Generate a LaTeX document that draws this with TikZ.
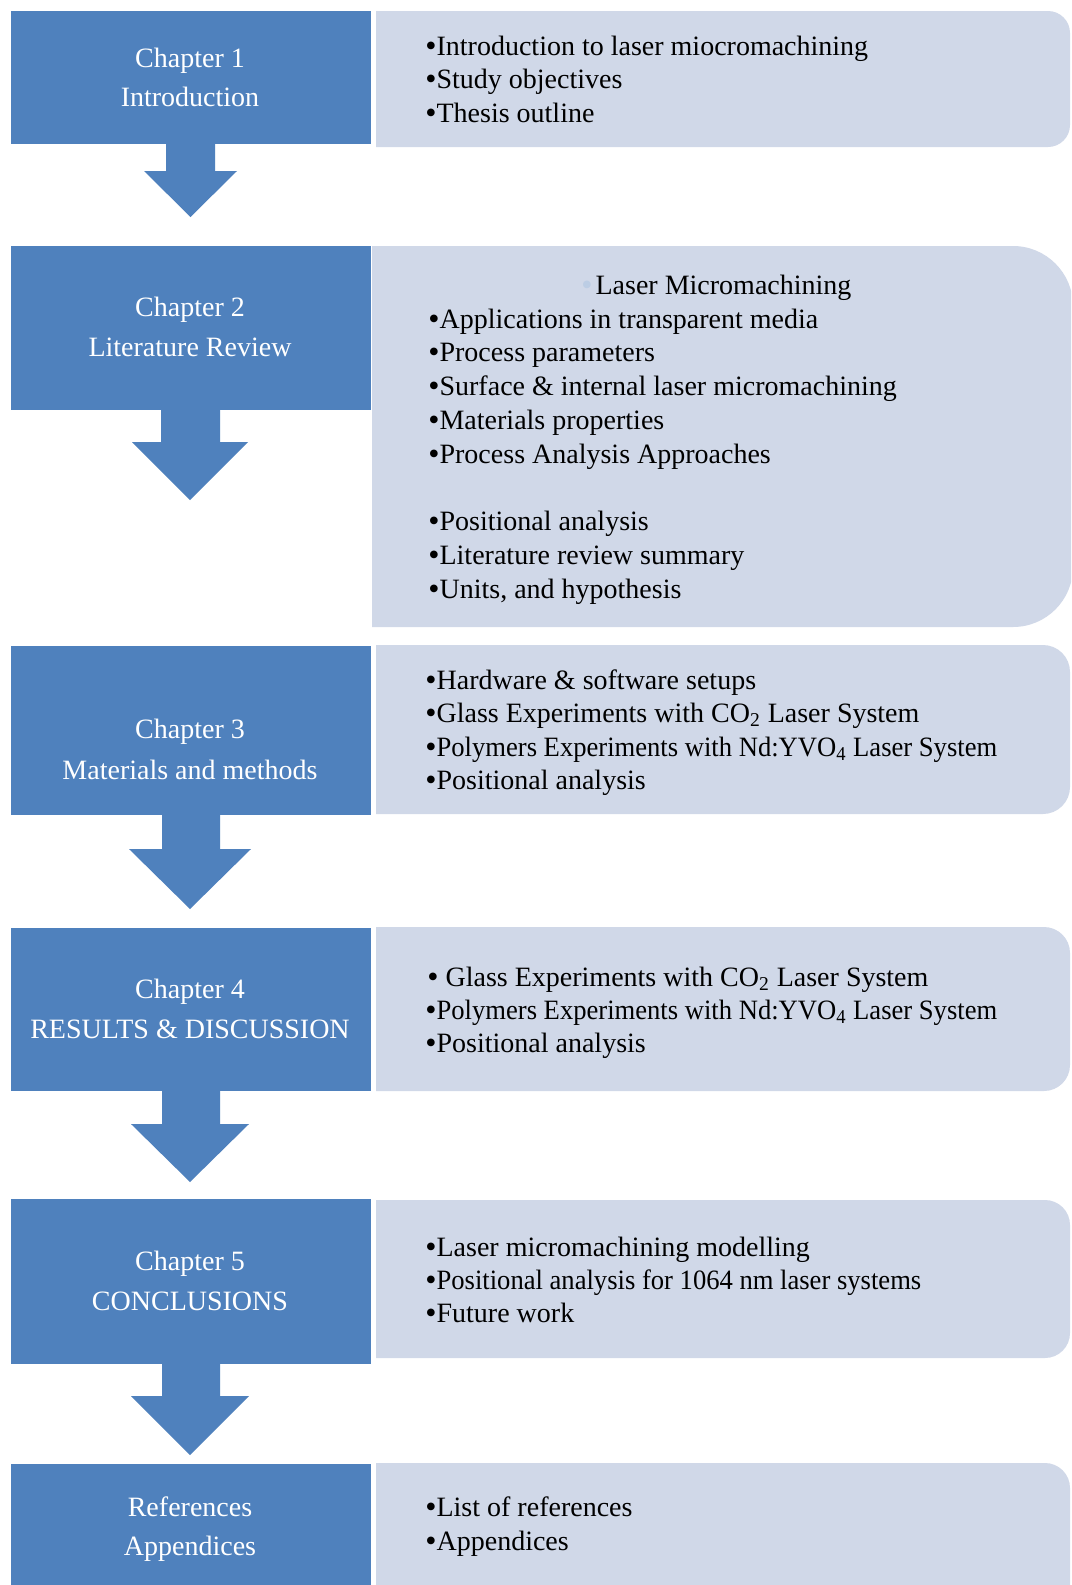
\documentclass[tikz,border=0pt]{standalone}
\usepackage{fontspec}
\usepackage{graphicx}
\setmainfont{Liberation Serif}
\definecolor{chapblue}{HTML}{4F81BD}
\definecolor{listgray}{HTML}{D0D8E8}
\definecolor{fadedbullet}{HTML}{BCCDE4}
% gray panel with square left corners and rounded right corners
% #1 x-left, #2 y-top, #3 x-right, #4 y-bottom, #5 corner radius
\newcommand{\listpanel}[5]{%
  \fill[listgray] (#1,#2) -- ({#3-#5},#2)
    .. controls ({#3-0.448*#5},#2) and (#3,{#2+0.448*#5}) .. (#3,{#2+#5})
    -- (#3,{#4-#5})
    .. controls (#3,{#4-0.448*#5}) and ({#3-0.448*#5},#4) .. ({#3-#5},#4)
    -- (#1,#4) -- cycle;}
% down arrow: #1 stem left, #2 stem right, #3 stem top, #4 head top,
% #5 head left, #6 head right, #7 tip y
\newcommand{\chapterarrow}[7]{%
  \fill[chapblue] (#1,#3) -- (#2,#3) -- (#2,#4) -- (#6,#4)
    -- ({(#5+#6)/2},#7) -- (#5,#4) -- (#1,#4) -- cycle;}
% list bullet, a little larger than the text bullet
\newcommand{\bul}{\makebox[5.6pt][l]{\raisebox{-0.8pt}{\fontsize{16pt}{16pt}\selectfont •}}}
% lines set slightly narrower
\newcommand{\narrow}[1]{\scalebox{0.95}[1]{#1}}
\tikzset{
  chapbox/.style={fill=chapblue, draw=white, line width=0.5pt},
  chaptext/.style={text=white, anchor=base, inner sep=0pt,
    font=\fontsize{14pt}{17pt}\selectfont},
  item/.style={text=black, anchor=base west, inner sep=0pt,
    font=\fontsize{14pt}{17pt}\selectfont},
}
\begin{document}
\begin{tikzpicture}[x=0.5pt,y=-0.5pt]
\clip (0,0) rectangle (1071,1585);
\fill[white] (0,0) rectangle (1071,1585);

% ---- list panels
\listpanel{376}{11}{1070}{147}{22}
\listpanel{372}{246}{1073}{627}{60}
\listpanel{376}{645}{1070}{814}{27}
\listpanel{376}{927}{1070}{1091}{26}
\listpanel{376}{1200}{1070}{1358}{25}
\listpanel{376}{1463}{1070}{1660}{25}

% ---- chapter boxes
\path[chapbox] (10,10) rectangle (371,144);
\path[chapbox] (10,245) rectangle (371,410);
\path[chapbox] (10,645) rectangle (371,815);
\path[chapbox] (10,927) rectangle (371,1091);
\path[chapbox] (10,1198) rectangle (371,1364);
\path[chapbox] (10,1463) rectangle (371,1640);

% ---- arrows between chapters
\chapterarrow{166}{215}{144}{171}{144}{237}{217}
\chapterarrow{161}{220}{410}{442}{132}{248}{500}
\chapterarrow{162}{220}{815}{849}{129}{251}{909}
\chapterarrow{162}{220}{1091}{1124}{131}{249}{1182}
\chapterarrow{162}{220}{1364}{1396}{131}{249}{1455}

% ---- chapter titles
\node[chaptext] (c1a) at (190,67) {Chapter 1};
\node[chaptext] (c1b) at (190,106) {Introduction};
\node[chaptext] (c2a) at (190,316) {Chapter 2};
\node[chaptext] (c2b) at (190,356) {Literature Review};
\node[chaptext] (c3a) at (190,738) {Chapter 3};
\node[chaptext] (c3b) at (190,779) {Materials and methods};
\node[chaptext] (c4a) at (190,998) {Chapter 4};
\node[chaptext] (c4b) at (190,1038) {RESULTS \& DISCUSSION};
\node[chaptext] (c5a) at (190,1270) {Chapter 5};
\node[chaptext] (c5b) at (190,1310) {CONCLUSIONS};
\node[chaptext] (c6a) at (190,1516) {References};
\node[chaptext] (c6b) at (190,1555) {Appendices};

% ---- chapter 1 contents
\node[item] (i1a) at (425,55) {\bul Introduction to laser miocromachining};
\node[item] (i1b) at (425,88) {\bul Study objectives};
\node[item] (i1c) at (425,122) {\bul Thesis outline};

% ---- chapter 2 contents
\node[item] (i2a) at (581,294) {{\color{fadedbullet}\bul}\hspace{1.5pt}Laser Micromachining};
\node[item] (i2b) at (428,328) {\bul Applications in transparent media};
\node[item] (i2c) at (428,361) {\bul Process parameters};
\node[item] (i2d) at (428,395) {\bul Surface \& internal laser micromachining};
\node[item] (i2e) at (428,429) {\bul Materials properties};
\node[item] (i2f) at (428,463) {\bul Process Analysis Approaches};
\node[item] (i2g) at (428,530) {\bul Positional analysis};
\node[item] (i2h) at (428,564) {\bul Literature review summary};
\node[item] (i2i) at (428,598) {\bul Units, and hypothesis};

% ---- chapter 3 contents
\node[item] (i3a) at (425,689) {\bul Hardware \& software setups};
\node[item] (i3b) at (425,722) {\bul Glass Experiments with CO\textsubscript{2} Laser System};
\node[item] (i3c) at (425,756) {\bul\narrow{Polymers Experiments with Nd:YVO\textsubscript{4} Laser System}};
\node[item] (i3d) at (425,789) {\bul Positional analysis};

% ---- chapter 4 contents
\node[item] (i4a) at (427,986) {\bul\ Glass Experiments with CO\textsubscript{2} Laser System};
\node[item] (i4b) at (425,1019) {\bul\narrow{Polymers Experiments with Nd:YVO\textsubscript{4} Laser System}};
\node[item] (i4c) at (425,1052) {\bul Positional analysis};

% ---- chapter 5 contents
\node[item] (i5a) at (425,1256) {\bul Laser micromachining modelling};
\node[item] (i5b) at (425,1289) {\bul\narrow{Positional analysis for 1064 nm laser systems}};
\node[item] (i5c) at (425,1322) {\bul Future work};

% ---- references and appendices
\node[item] (i6a) at (425,1516) {\bul List of references};
\node[item] (i6b) at (425,1550) {\bul Appendices};
\end{tikzpicture}
\end{document}
